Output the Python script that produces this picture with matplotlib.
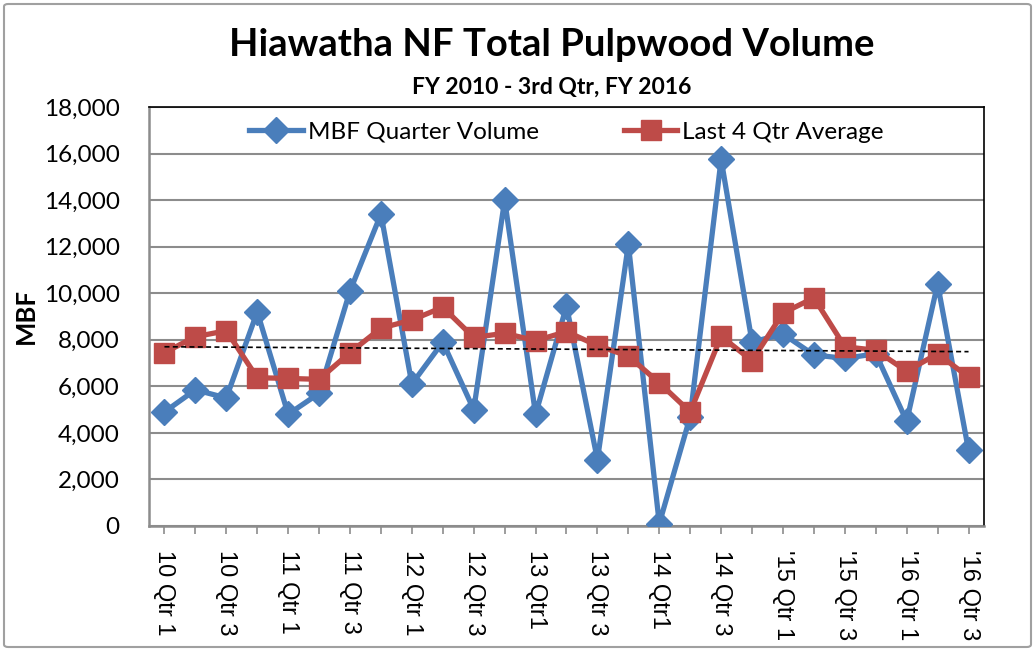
import matplotlib.pyplot as plt
import matplotlib.ticker as mticker
from matplotlib.patches import FancyBboxPatch
import numpy as np

# Quarter labels (every quarter FY10 Q1 .. FY16 Q3), only odd quarters are labelled
quarters = ['10 Qtr 1', '', '10 Qtr 3', '', '11 Qtr 1', '', '11 Qtr 3', '',
            '12 Qtr 1', '', '12 Qtr 3', '', '13 Qtr1', '', '13 Qtr 3', '',
            '14 Qtr1', '', '14 Qtr 3', '', "'15 Qtr 1", '', "'15 Qtr 3", '',
            "'16 Qtr 1", '', "'16 Qtr 3"]

# MBF per quarter
quarter_volume = [4900, 5850, 5500, 9200, 4800, 5700, 10100, 13400, 6100,
                  7900, 5000, 14000, 4800, 9450, 2850, 12100, 100, 4700,
                  15750, 7900, 8250, 7350, 7200, 7400, 4500, 10400, 3250]

# running average of the last four quarters
last4_avg = [7450, 8130, 8390, 6370, 6340, 6300, 7450, 8500, 8850, 9400,
             8100, 8280, 7960, 8350, 7750, 7300, 6150, 4900, 8150, 7100,
             9150, 9800, 7700, 7550, 6650, 7400, 6400]

# linear trendline end values
trend_ends = [7700, 7490]

blue = '#4A7EBB'
red = '#BE4B48'
grid_grey = '#8C8C8C'

fig = plt.figure(figsize=(10.34, 6.51), dpi=100)
ax = fig.add_axes([149/1034, 1 - 526/651, 835/1034, 419/651])

# chart area border
fig.patches.append(FancyBboxPatch((4/1034, 4/651), 1027/1034, 643/651,
                                  boxstyle='round,pad=0,rounding_size=0.004',
                                  transform=fig.transFigure, fill=False,
                                  edgecolor='#A0A0A0', linewidth=1.5))

x = np.arange(len(quarters))
ax.plot(x, quarter_volume, color=blue, lw=3.8, marker='D', markersize=13,
        label='MBF Quarter Volume', zorder=3)
ax.plot(x, last4_avg, color=red, lw=3.8, marker='s', markersize=14.5,
        label='Last 4 Qtr Average', zorder=4)
ax.plot([x[0], x[-1]], trend_ends, color='black', lw=1.2, ls=(0, (3, 2)),
        zorder=5)

ax.set_xlim(-0.5, len(quarters) - 0.5)
ax.set_ylim(0, 18000)
ax.yaxis.set_major_locator(mticker.MultipleLocator(2000))
ax.yaxis.set_major_formatter(mticker.StrMethodFormatter('{x:,.0f}'))
ax.grid(axis='y', color=grid_grey, lw=1.5)
ax.set_axisbelow(True)

ax.set_xticks(x)
ax.set_xticklabels(quarters, rotation=270, fontsize=17,
                   family='Liberation Sans', va='top', ha='center')
ax.tick_params(axis='x', length=6, color=grid_grey, width=1.2, pad=11)
ax.tick_params(axis='y', length=0, pad=21, labelsize=17.5)
for lab in ax.get_yticklabels():
    lab.set_family('Lato')

for side in ['left', 'bottom']:
    ax.spines[side].set_color(grid_grey)
    ax.spines[side].set_linewidth(1.8)
for side in ['top', 'right']:
    ax.spines[side].set_color('black')
    ax.spines[side].set_linewidth(1.2)

ax.set_ylabel('MBF', fontsize=18.5, fontweight='bold', family='Lato', labelpad=4)

fig.text(552/1034, 1 - 45/651, 'Hiawatha NF Total Pulpwood Volume',
         ha='center', va='center', fontsize=27.5, fontweight='bold', family='Lato')
fig.text(552/1034, 1 - 87/651, 'FY 2010 - 3rd Qtr, FY 2016',
         ha='center', va='center', fontsize=16.5, fontweight='bold', family='Lato')

ax.legend(loc='upper center', bbox_to_anchor=(0.5, 1.0), ncol=2, frameon=False,
          prop={'family': 'Lato', 'size': 17.5}, handlelength=2.2,
          columnspacing=3.5, handletextpad=0.2, borderaxespad=0.2)

fig.savefig('out.png', dpi=100)
